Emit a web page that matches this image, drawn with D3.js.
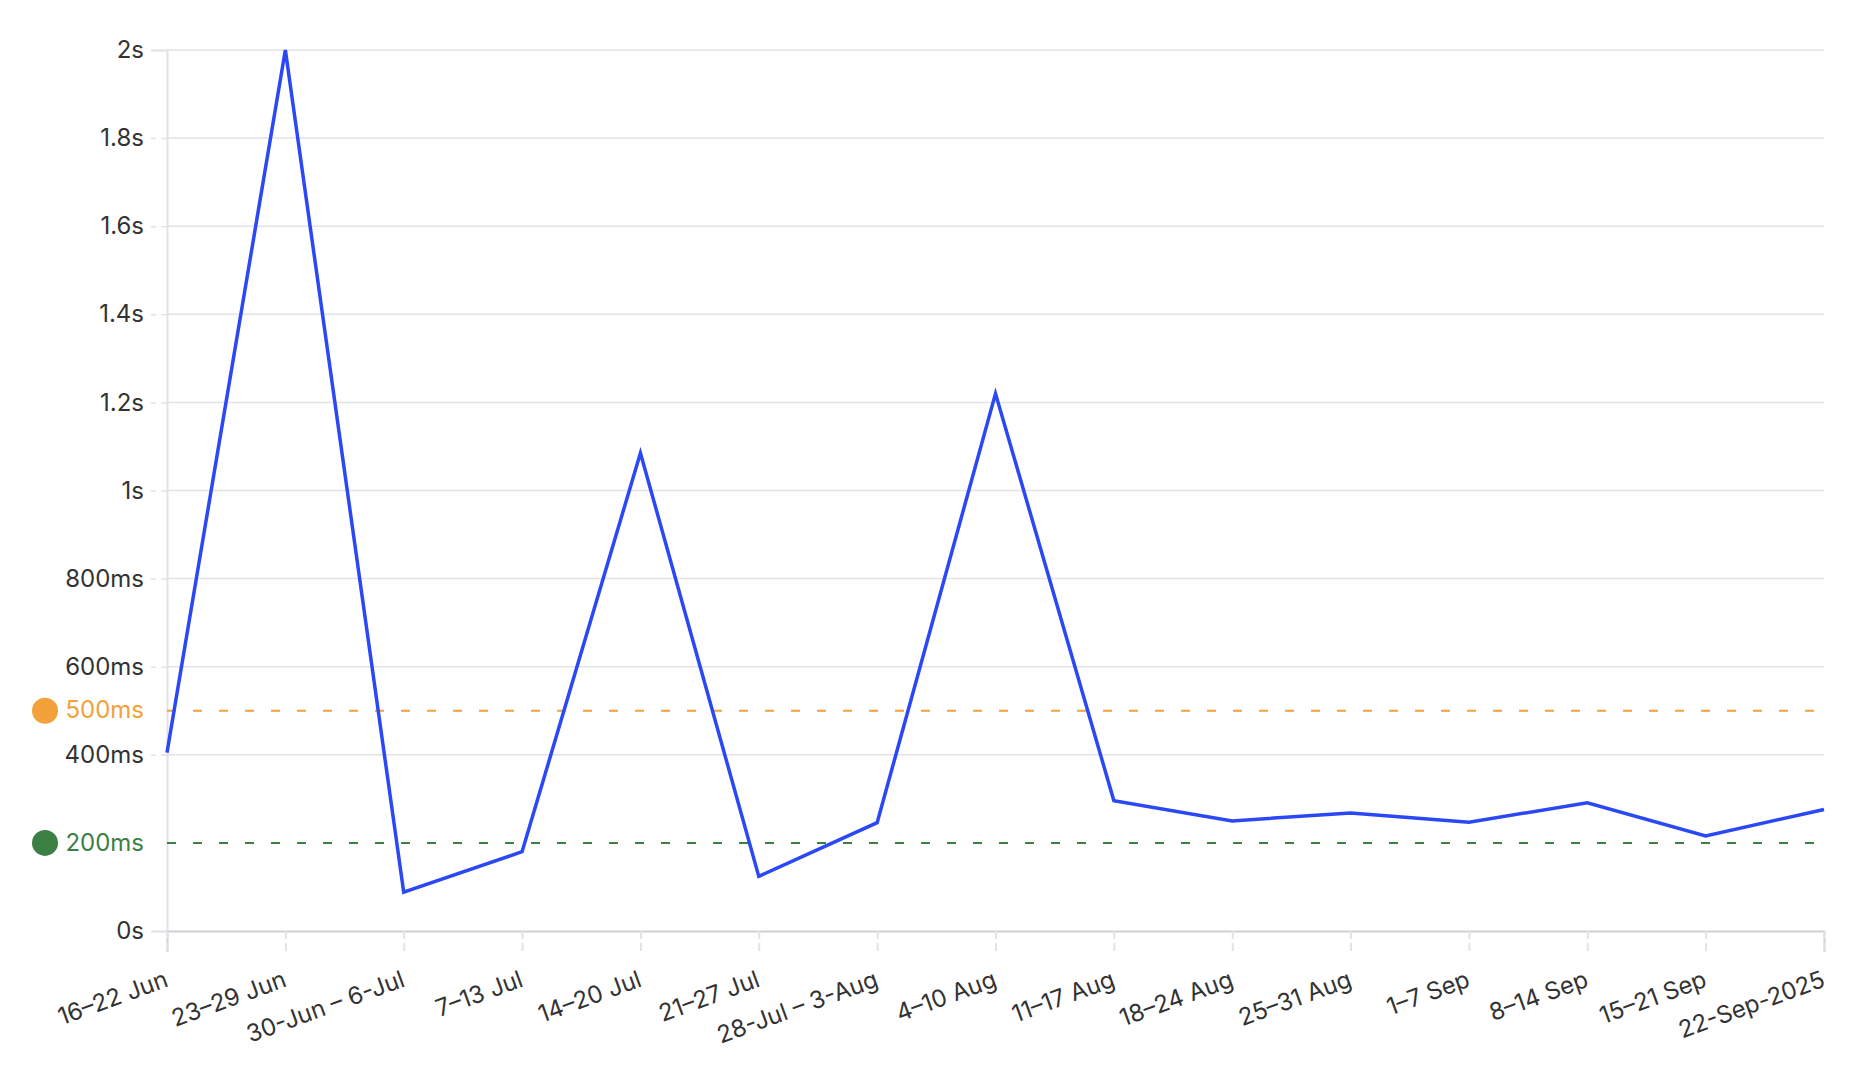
<!DOCTYPE html>
<html>
<head>
<meta charset="utf-8">
<script src="https://cdn.jsdelivr.net/npm/d3@7"></script>
<style>
  html, body { margin: 0; padding: 0; background: #fff; }
  svg { display: block; }
  text { font-family: Inter, "Noto Sans", sans-serif; }
</style>
</head>
<body>
<svg id="chart" width="1870" height="1082"></svg>
<script>
const categories = ["16–22 Jun", "23–29 Jun", "30-Jun – 6-Jul", "7–13 Jul", "14–20 Jul", "21–27 Jul",
  "28-Jul – 3-Aug", "4–10 Aug", "11–17 Aug", "18–24 Aug", "25–31 Aug", "1–7 Sep", "8–14 Sep",
  "15–21 Sep", "22-Sep-2025"];
const valuesMs = [405, 2000, 88, 180, 1085, 124, 246, 1220, 296, 250, 268, 247, 291, 216, 276];
const yTickValues = [0, 400, 600, 800, 1000, 1200, 1400, 1600, 1800, 2000];
const thresholds = [
  { value: 500, label: "500ms", color: "#f2a13b" },
  { value: 200, label: "200ms", color: "#3b7f44" }
];

const fmt = v => v === 0 ? "0s" : (v < 1000 ? v + "ms" : (v / 1000) + "s");

const svg = d3.select("#chart");
const mLeft = 167, mRight = 1824, mTop = 50, mBottom = 931;
const FS = 24;

const x = d3.scalePoint().domain(categories).range([mLeft, mRight]);
const y = d3.scaleLinear().domain([0, 2000]).range([mBottom, mTop]);

// gridlines
svg.append("g").selectAll("line").data(yTickValues.filter(v => v !== 0)).join("line")
  .attr("x1", mLeft).attr("x2", mRight)
  .attr("y1", d => y(d)).attr("y2", d => y(d))
  .attr("stroke", "#e2e2e7").attr("stroke-width", 1.5);

// y axis
const yAxis = svg.append("g").attr("transform", `translate(${mLeft},0)`)
  .call(d3.axisLeft(y).tickValues(yTickValues).tickSize(16).tickPadding(7).tickFormat(fmt));
yAxis.select(".domain").attr("stroke", "#e2e2e7").attr("stroke-width", 2);
yAxis.selectAll(".tick line").attr("stroke", "#e2e2e7").attr("stroke-width", 1.5).attr("stroke-dasharray", "6,5");
yAxis.selectAll(".tick text").attr("font-size", FS).attr("fill", "#333").attr("font-family", "Inter, sans-serif");

// x axis
const xAxis = svg.append("g").attr("transform", `translate(0,${mBottom})`)
  .call(d3.axisBottom(x).tickSize(21).tickFormat(d => d));
xAxis.select(".domain").attr("stroke", "#cfcfd5").attr("stroke-width", 2);
xAxis.selectAll(".tick line").attr("stroke", "#e2e2e7").attr("stroke-width", 2).attr("stroke-dasharray", "8,4");
xAxis.selectAll(".tick text")
  .attr("font-size", FS).attr("fill", "#333").attr("font-family", "Inter, sans-serif")
  .attr("text-anchor", "end").attr("y", 0).attr("dy", 0)
  .attr("transform", "translate(2,55) rotate(-20)");

// thresholds
thresholds.forEach(t => {
  svg.append("line")
    .attr("x1", mLeft).attr("x2", mRight)
    .attr("y1", y(t.value)).attr("y2", y(t.value))
    .attr("stroke", t.color).attr("stroke-width", 2).attr("stroke-dasharray", "9,17");
  svg.append("circle").attr("cx", 45).attr("cy", y(t.value)).attr("r", 13).attr("fill", t.color);
  svg.append("text").attr("x", 144).attr("y", y(t.value)).attr("dy", "0.32em")
    .attr("text-anchor", "end").attr("font-size", FS).attr("fill", t.color).text(t.label);
});

// line
const line = d3.line().x((d, i) => x(categories[i])).y(d => y(d));
svg.append("path").datum(valuesMs)
  .attr("d", line).attr("fill", "none")
  .attr("stroke", "#2a48f5").attr("stroke-width", 3.5).attr("stroke-linejoin", "miter");
</script>
</body>
</html>
